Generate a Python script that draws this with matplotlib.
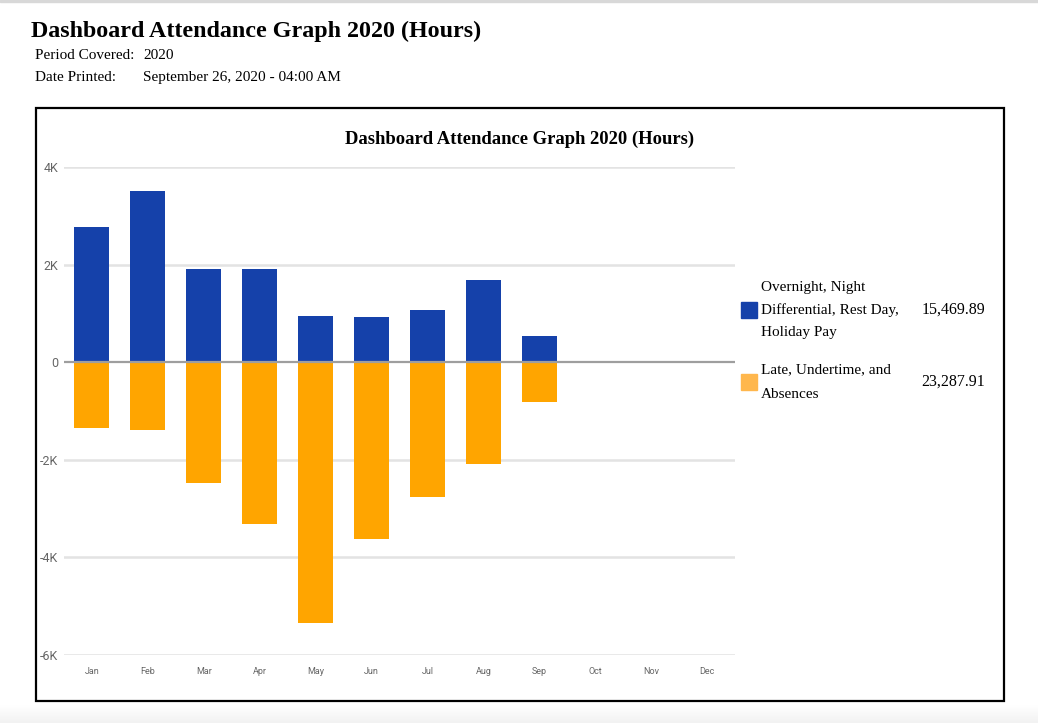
import numpy as np
import matplotlib.pyplot as plt
import matplotlib.patches as mpatches

W, H = 1038, 723

# data (hours)
months = ["Jan", "Feb", "Mar", "Apr", "May", "Jun", "Jul", "Aug", "Sep", "Oct", "Nov", "Dec"]
overtime = [2770, 3500, 1920, 1900, 950, 930, 1060, 1690, 540, 0, 0, 0]
late = [-1350, -1390, -2480, -3320, -5340, -3630, -2760, -2080, -810, 0, 0, 0]
yticks = [-6000, -4000, -2000, 0, 2000, 4000]
ytick_labels = ["-6K", "-4K", "-2K", "0", "2K", "4K"]
legend_names = ["Overnight, Night\nDifferential, Rest Day,\nHoliday Pay",
                "Late, Undertime, and\nAbsences"]
legend_totals = ["15,469.89", "23,287.91"]

BLUE = "#1541aa"
ORANGE = "#ffa500"
ORANGE_LEG = "#ffb74d"
SERIF = ["Liberation Serif", "DejaVu Serif"]


def px(x, y):
    # pixel coords (top-left origin) -> figure fraction
    return x / W, 1 - y / H


fig = plt.figure(figsize=(W / 100, H / 100), dpi=100)

# page decorations: top rule and faint grey footer band
fig.patches.append(mpatches.Rectangle(px(0, 2), 1, 2 / H, transform=fig.transFigure,
                                      color="#d8d8d8", zorder=0))
for i in range(18):
    y0 = 705 + i
    shade = 1 - 0.05 * i / 17
    fig.patches.append(mpatches.Rectangle(px(0, y0 + 1), 1, 1 / H, transform=fig.transFigure,
                                          color=(shade, shade, shade), zorder=0))

# header (baseline aligned so label and value sit on the same line)
fig.text(*px(31, 31), "Dashboard Attendance Graph 2020 (Hours)", family=SERIF,
         fontsize=17.3, fontweight="bold", va="center", ha="left")
fig.text(*px(35, 59), "Period Covered:", family=SERIF, fontsize=11, va="baseline")
fig.text(*px(143, 59), "2020", family=SERIF, fontsize=11, va="baseline")
fig.text(*px(35, 81), "Date Printed:", family=SERIF, fontsize=11, va="baseline")
fig.text(*px(143, 81), "September 26, 2020 - 04:00 AM", family=SERIF, fontsize=11, va="baseline")

# chart frame
x0, y0 = px(36, 701)
x1, y1 = px(1004, 108)
fig.patches.append(mpatches.Rectangle((x0, y0), x1 - x0, y1 - y0, transform=fig.transFigure,
                                      fill=False, edgecolor="black", linewidth=1.6, zorder=3))

fig.text(*px(520, 139), "Dashboard Attendance Graph 2020 (Hours)", family=SERIF,
         fontsize=13.4, fontweight="bold", ha="center", va="center")

# plot area
l, b = px(64, 655)
r, t = px(735, 167)
ax = fig.add_axes([l, b, r - l, t - b])
x = np.arange(len(months))
ax.bar(x, overtime, width=0.625, color=BLUE, zorder=2)
ax.bar(x, late, width=0.625, color=ORANGE, zorder=2)
ax.axhline(0, color="#9e9e9e", linewidth=1.6, zorder=3)

ax.set_xlim(-0.5, 11.5)
ax.set_ylim(-6000, 4000)
ax.set_yticks(yticks)
ax.set_yticklabels(ytick_labels)
ax.set_xticks(x)
ax.set_xticklabels(months)
for v in yticks:
    if v != 0:
        ax.axhline(v, color="#e3e3e3", linewidth=1.8, zorder=1)
ax.tick_params(length=0, colors="#666666")
ax.tick_params(axis="y", labelsize=9, pad=4)
ax.tick_params(axis="x", labelsize=6.5, pad=9)
for lab in ax.get_xticklabels() + ax.get_yticklabels():
    lab.set_family("Roboto")
    lab.set_stretch("condensed")
for s in ax.spines.values():
    s.set_visible(False)

# legend with totals
for (cy, name, total, col, ls) in [(310, legend_names[0], legend_totals[0], BLUE, 1.9),
                                   (382, legend_names[1], legend_totals[1], ORANGE_LEG, 2.1)]:
    sx, sy = px(741, cy + 8)
    fig.patches.append(mpatches.Rectangle((sx, sy), 16 / W, 16 / H, transform=fig.transFigure,
                                          color=col))
    fig.text(*px(761, cy), name, family=SERIF, fontsize=11, va="center", ha="left",
             linespacing=ls)
    fig.text(*px(985, cy), total, family=SERIF, fontsize=11.5, va="center", ha="right")

fig.savefig("out.png", dpi=100)
